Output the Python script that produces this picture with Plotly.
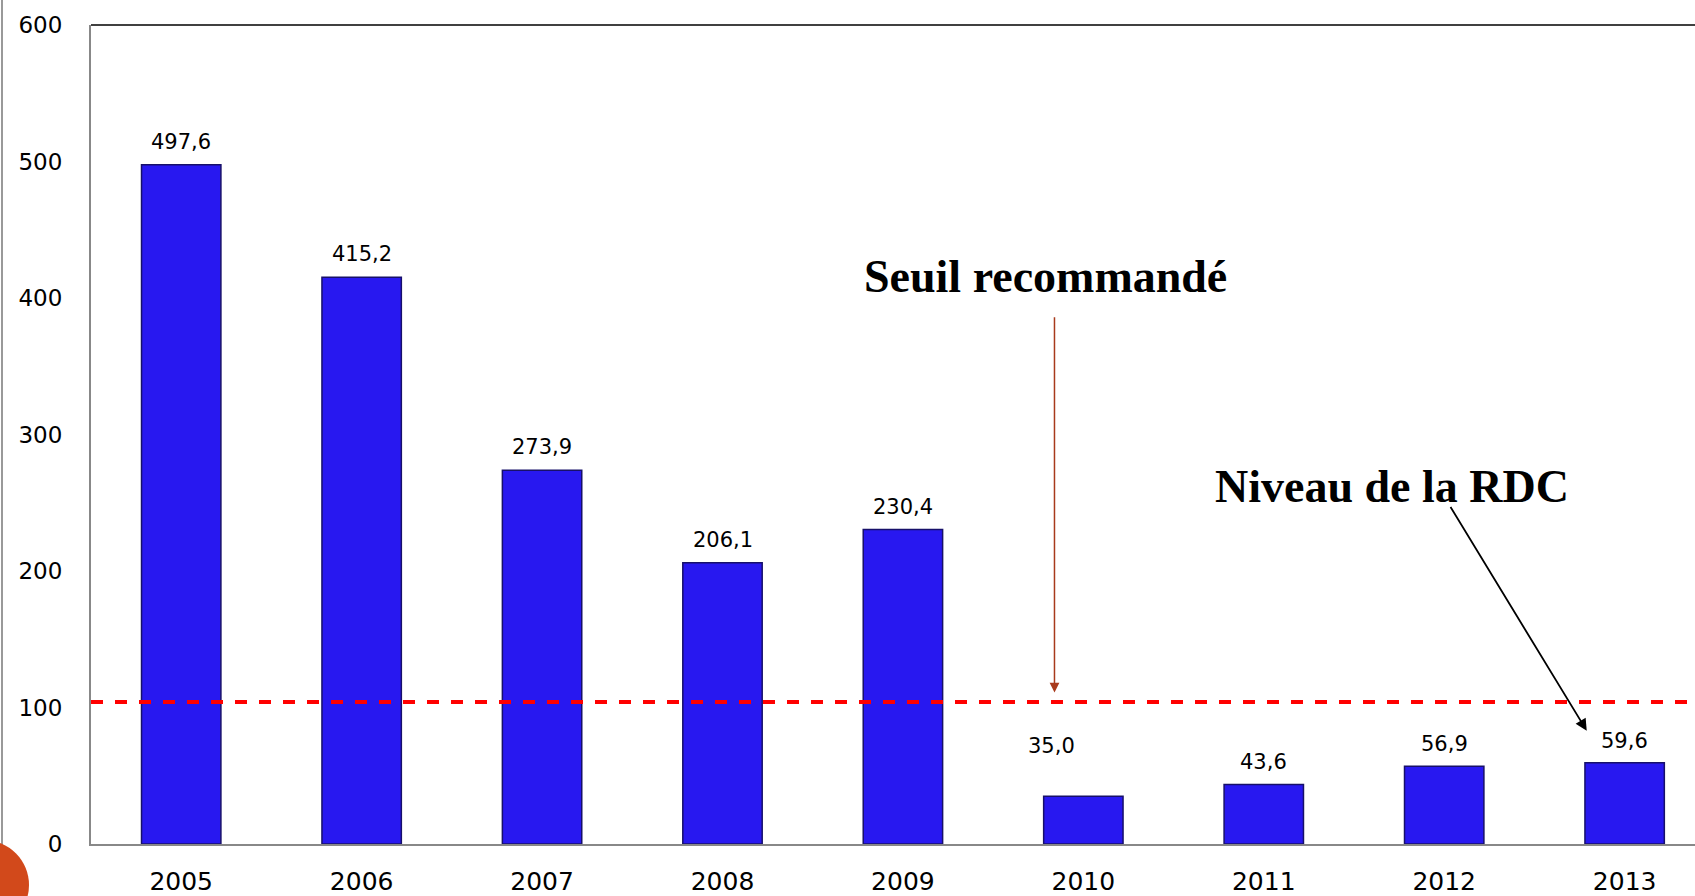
import plotly.graph_objects as go

# data
years = ['2005', '2006', '2007', '2008', '2009', '2010', '2011', '2012', '2013']
values = [497.6, 415.2, 273.9, 206.1, 230.4, 35.0, 43.6, 56.9, 59.6]
labels = ['497,6', '415,2', '273,9', '206,1', '230,4', '35,0', '43,6', '56,9', '59,6']
label_shift = [23, 23, 23, 23, 23, 50, 22, 22, 22]
label_xshift = [0, 0, 0, 0, 0, -32, 0, 0, 0]
seuil = 104

fig = go.Figure()

fig.add_trace(go.Bar(
    x=years, y=values,
    width=0.44,
    marker=dict(color='#2818F0', line=dict(color='#17106a', width=1.5)),
    hoverinfo='x+y',
    showlegend=False,
))

# dashed threshold line
fig.add_shape(type='line', xref='paper', yref='y', x0=0, x1=1, y0=seuil, y1=seuil,
              line=dict(color='#FF0000', width=4, dash='dash'))

# value labels above bars (x as category index)
for i, (v, lab, sh, xs) in enumerate(zip(values, labels, label_shift, label_xshift)):
    fig.add_annotation(x=i, y=v, text=lab, showarrow=False, yshift=sh, xshift=xs,
                       font=dict(family='DejaVu Sans', size=21, color='black'))

# callouts
fig.add_annotation(x=4.84, y=111, ax=4.84, ay=387, axref='x', ayref='y',
                   showarrow=True, arrowhead=2, arrowsize=1.3, arrowwidth=1.5,
                   arrowcolor='#A83A1C', text='')
fig.add_annotation(x=4.79, y=416, text='<b>Seuil recommandé</b>', showarrow=False,
                   font=dict(family='Liberation Serif', size=46, color='black'))

fig.add_annotation(x=7.79, y=83, ax=7.03, ay=248, axref='x', ayref='y',
                   showarrow=True, arrowhead=2, arrowsize=1.3, arrowwidth=1.8,
                   arrowcolor='black', text='')
fig.add_annotation(x=6.71, y=262, text='<b>Niveau de la RDC</b>', showarrow=False,
                   font=dict(family='Liberation Serif', size=46, color='black'))

# top border of the plot area
fig.add_shape(type='line', xref='paper', yref='paper', x0=0, x1=1, y0=1, y1=1,
              line=dict(color='black', width=1.5))

# slide decorations: left border line and orange circle
fig.add_shape(type='line', xref='paper', yref='paper', x0=-89 / 1604, x1=-89 / 1604,
              y0=-52 / 819, y1=1 + 25 / 819, line=dict(color='#999999', width=2))
fig.add_shape(type='circle', xref='paper', yref='paper',
              x0=-152 / 1604, x1=-62 / 1604, y0=-86 / 819, y1=4 / 819,
              fillcolor='#D2491B', line=dict(width=0), layer='above')

fig.update_layout(
    width=1695, height=896,
    margin=dict(l=91, r=0, t=25, b=52),
    plot_bgcolor='white', paper_bgcolor='white',
    xaxis=dict(type='category', range=[-0.5, 8.39], showline=True, linecolor='#888888',
               linewidth=2, ticks='', ticklabelstandoff=14,
               tickfont=dict(family='DejaVu Sans', size=25, color='black')),
    yaxis=dict(range=[0, 600], dtick=100, showgrid=False, zeroline=False,
               showline=True, linecolor='#888888', linewidth=2, ticks='',
               ticklabelstandoff=22,
               tickfont=dict(family='DejaVu Sans', size=23, color='black')),
)

fig.write_html('out.html', config={'displayModeBar': False},
               post_script="document.body.style.margin='0';")
